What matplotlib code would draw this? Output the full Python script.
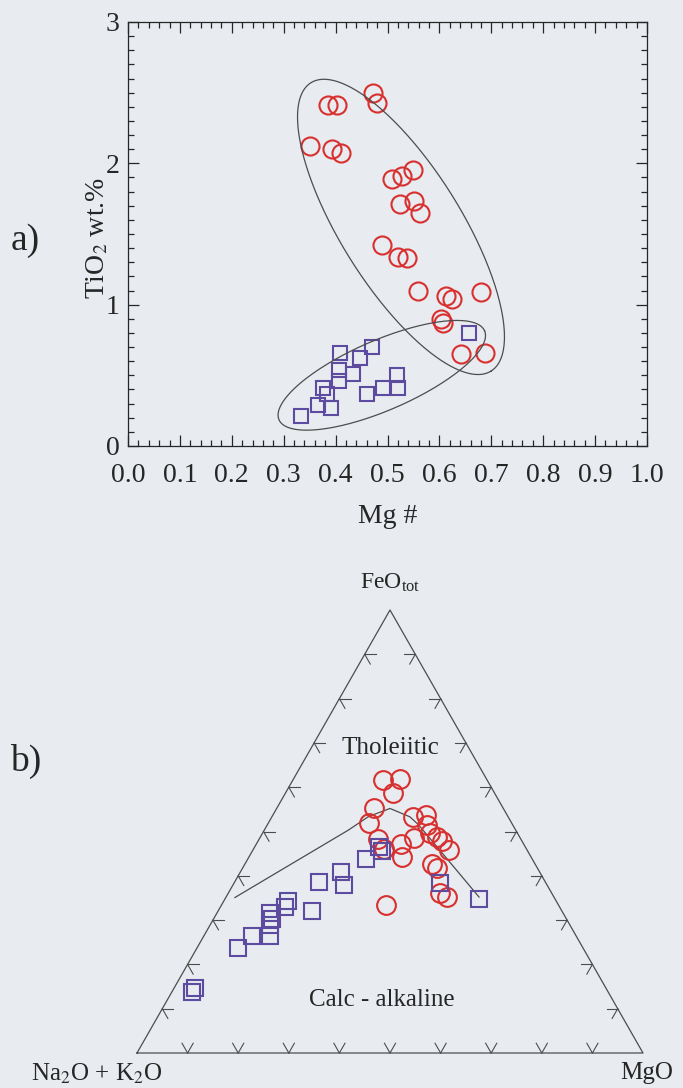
import numpy as np
import matplotlib
matplotlib.use("Agg")
import matplotlib.pyplot as plt
from matplotlib.ticker import MultipleLocator

plt.rcParams["font.family"] = ["Liberation Serif", "DejaVu Serif"]
plt.rcParams["mathtext.fontset"] = "stix"

# ---- panel a: TiO2 vs Mg# ----
mg_circles = [0.386, 0.403, 0.473, 0.479, 0.351, 0.394, 0.410, 0.508, 0.527, 0.549, 0.524, 0.551,
              0.563, 0.489, 0.521, 0.537, 0.559, 0.613, 0.624, 0.681, 0.604, 0.606, 0.641, 0.688]
ti_circles = [2.41, 2.41, 2.50, 2.43, 2.12, 2.10, 2.07, 1.89, 1.91, 1.95, 1.71, 1.73,
              1.65, 1.42, 1.34, 1.33, 1.10, 1.06, 1.04, 1.09, 0.90, 0.87, 0.65, 0.66]
mg_squares = [0.657, 0.470, 0.408, 0.447, 0.407, 0.434, 0.518, 0.407,
              0.376, 0.492, 0.521, 0.384, 0.460, 0.367, 0.391, 0.333]
ti_squares = [0.80, 0.70, 0.66, 0.62, 0.54, 0.51, 0.50, 0.46,
              0.41, 0.41, 0.41, 0.37, 0.37, 0.29, 0.27, 0.21]

# ---- panel b: AFM ternary (wt.% Na2O+K2O, FeOtot, MgO) ----
A_circles = [20.6, 17.1, 20.2, 25.6, 28.1, 28.3, 28.2, 24.2, 25.6, 21.0, 18.9,
             16.1, 16.9, 17.2, 16.3, 15.7, 15.4, 20.4, 19.9, 22.1, 21.2, 34.0]
F_circles = [61.6, 61.9, 58.6, 55.3, 52.0, 48.2, 46.0, 47.2, 44.2, 48.5, 53.2,
             53.7, 51.5, 49.7, 48.8, 47.9, 45.8, 42.7, 41.8, 36.1, 35.2, 33.4]
M_circles = [17.8, 21.0, 21.2, 19.1, 19.9, 23.5, 25.8, 28.6, 30.2, 30.5, 27.9,
             30.2, 31.6, 33.1, 34.9, 36.4, 38.8, 36.9, 38.3, 41.8, 43.6, 32.6]
A_squares = [82.3, 81.2, 68.2, 64.1, 60.5, 59.2, 58.3, 58.0, 54.3, 53.0,
             49.4, 44.6, 39.3, 40.2, 32.8, 28.9, 28.7, 20.8, 15.0]
F_squares = [13.8, 14.6, 23.6, 26.3, 26.3, 28.9, 30.2, 31.5, 33.0, 34.2,
             32.1, 38.7, 40.9, 37.9, 43.7, 46.4, 45.7, 37.9, 34.7]
M_squares = [3.9, 4.2, 8.2, 9.6, 13.2, 11.9, 11.5, 10.5, 12.7, 12.8,
             18.5, 16.7, 19.8, 21.9, 23.5, 24.7, 25.6, 40.2, 50.3]
# tholeiitic / calc-alkaline divide
A_line = [63.1, 33.1, 27.5, 22.4, 19.4, 18.6, 14.8]
F_line = [35.1, 50.3, 53.4, 55.2, 53.3, 51.5, 35.2]
M_line = [1.8, 16.6, 19.1, 22.4, 27.3, 29.9, 50.0]

RED = "#d8302f"
PURPLE = "#5c4b9e"
INK = "#262626"
LINE = "#4d4d4d"
BG = "#e8ebf0"

fig = plt.figure(figsize=(6.83, 10.88), dpi=100)
fig.patch.set_facecolor(BG)

# ---------------- panel a ----------------
ax = fig.add_axes([0.1874, 0.5901, 0.7599, 0.3897])
ax.set_facecolor(BG)
ax.set_xlim(0, 1)
ax.set_ylim(0, 3)
ax.plot(mg_circles, ti_circles, "o", ms=13, mfc="none", mec=RED, mew=1.5)
ax.plot(mg_squares, ti_squares, "s", ms=10, mfc="none", mec=PURPLE, mew=1.5)

ax.xaxis.set_major_locator(MultipleLocator(0.1))
ax.xaxis.set_minor_locator(MultipleLocator(0.02))
ax.yaxis.set_major_locator(MultipleLocator(1))
ax.yaxis.set_minor_locator(MultipleLocator(0.1))
ax.xaxis.set_major_formatter(plt.FuncFormatter(lambda v, p: f"{v:.1f}"))
ax.yaxis.set_major_formatter(plt.FuncFormatter(lambda v, p: f"{v:.0f}"))
ax.tick_params(which="both", direction="in", top=True, right=True, color=INK, width=0.9)
ax.tick_params(which="major", length=8, labelsize=20, colors=INK)
ax.tick_params(which="minor", length=4.5)
ax.tick_params(axis="x", pad=12)
ax.tick_params(axis="y", pad=6)
for sp in ax.spines.values():
    sp.set_color(INK)
    sp.set_linewidth(0.9)
ax.set_xlabel("Mg #", fontsize=20, color=INK, labelpad=12)
ax.set_ylabel("TiO$_2$ wt.%", fontsize=20, color=INK)
ax.yaxis.set_label_coords(-0.034, 0.49)


def enclosure(ax, cx, cy, a_px, b_px, ang_deg):
    # hand-drawn style field outline, sized in screen pixels
    t = np.linspace(0, 2 * np.pi, 300)
    th = np.radians(ang_deg)
    ex = a_px * np.cos(t) * np.cos(th) - b_px * np.sin(t) * np.sin(th)
    ey = a_px * np.cos(t) * np.sin(th) + b_px * np.sin(t) * np.cos(th)
    c = ax.transData.transform((cx, cy))
    pts = ax.transData.inverted().transform(np.column_stack([c[0] + ex, c[1] + ey]))
    ax.plot(pts[:, 0], pts[:, 1], color=LINE, lw=0.9)


enclosure(ax, 0.526, 1.55, 170, 60, -58)
enclosure(ax, 0.489, 0.50, 112, 35, 23.4)

fig.text(0.015, 0.779, "a)", fontsize=27, color=INK, va="center")

# ---------------- panel b ----------------
H = np.sqrt(3) / 2


def to_xy(A, F, M):
    A, F, M = (np.asarray(v, dtype=float) for v in (A, F, M))
    s = A + F + M
    return M / s + 0.5 * F / s, H * F / s


tx = fig.add_axes([137 / 683, 35 / 1088, 506 / 683, 443 / 1088])
tx.set_xlim(0, 1)
tx.set_ylim(0, H)
tx.axis("off")

tx.plot([0, 1, 0.5, 0], [0, 0, H, 0], color=LINE, lw=0.9, clip_on=False)

L = 0.022
for i in range(1, 10):
    t = i / 10
    stubs = [
        ((t, 0), [60, 120]),                 # base
        ((t / 2, t * H), [0, -60]),          # left edge
        ((1 - t / 2, t * H), [180, 240]),    # right edge
    ]
    for (x0, y0), angs in stubs:
        for a in angs:
            r = np.radians(a)
            tx.plot([x0, x0 + L * np.cos(r)], [y0, y0 + L * np.sin(r)],
                    color=LINE, lw=0.8, clip_on=False)

lx, ly = to_xy(A_line, F_line, M_line)
tx.plot(lx, ly, color=LINE, lw=0.9)

cx_, cy_ = to_xy(A_circles, F_circles, M_circles)
tx.plot(cx_, cy_, "o", ms=13.5, mfc="none", mec=RED, mew=1.5)
sx_, sy_ = to_xy(A_squares, F_squares, M_squares)
tx.plot(sx_, sy_, "s", ms=11, mfc="none", mec=PURPLE, mew=1.5)

tx.text(0.5, 0.919, "FeO$_{\\mathregular{tot}}$", fontsize=17, color=INK, ha="center", va="center")
tx.text(0.5, 0.596, "Tholeiitic", fontsize=18, color=INK, ha="center", va="center")
tx.text(0.484, 0.104, "Calc - alkaline", fontsize=18, color=INK, ha="center", va="center")
tx.text(-0.079, -0.04, "Na$_2$O + K$_2$O", fontsize=18, color=INK, ha="center", va="center")
tx.text(1.008, -0.04, "MgO", fontsize=18, color=INK, ha="center", va="center")

fig.text(0.015, 0.30, "b)", fontsize=27, color=INK, va="center")

fig.savefig("out.png", dpi=100, facecolor=fig.get_facecolor())
